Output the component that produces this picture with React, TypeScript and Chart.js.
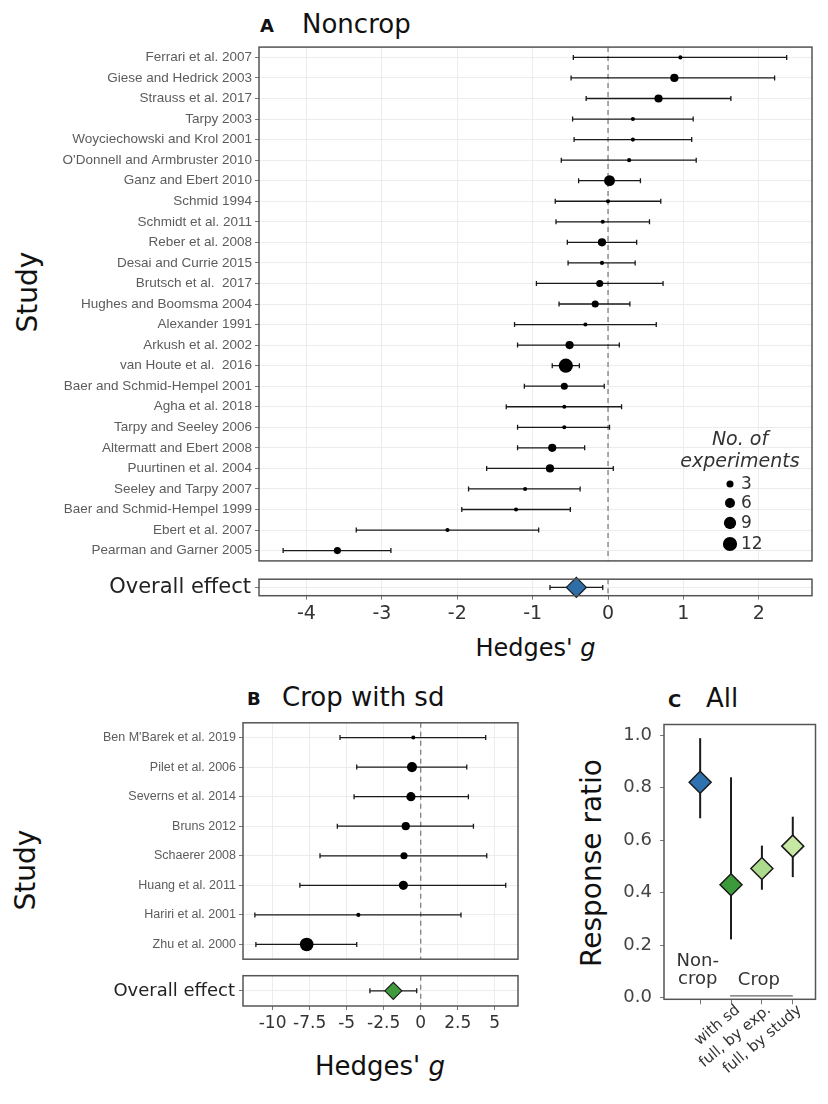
import React, { useEffect, useRef } from 'react';
import { Chart, registerables } from 'chart.js';
Chart.register(...registerables);

const FONT = "'DejaVu Sans', sans-serif";
Chart.defaults.font.family = FONT;

// ---------- Panel A: Noncrop ----------
const studiesA = [
  'Ferrari et al. 2007', 'Giese and Hedrick 2003', 'Strauss et al. 2017', 'Tarpy 2003',
  'Woyciechowski and Krol 2001', "O'Donnell and Armbruster 2010", 'Ganz and Ebert 2010',
  'Schmid 1994', 'Schmidt et al. 2011', 'Reber et al. 2008', 'Desai and Currie 2015',
  'Brutsch et al.  2017', 'Hughes and Boomsma 2004', 'Alexander 1991', 'Arkush et al. 2002',
  'van Houte et al.  2016', 'Baer and Schmid-Hempel 2001', 'Agha et al. 2018',
  'Tarpy and Seeley 2006', 'Altermatt and Ebert 2008', 'Puurtinen et al. 2004',
  'Seeley and Tarpy 2007', 'Baer and Schmid-Hempel 1999', 'Ebert et al. 2007',
  'Pearman and Garner 2005',
];
const gA = [0.96, 0.88, 0.67, 0.33, 0.33, 0.28, 0.02, 0.0, -0.07, -0.08, -0.08, -0.11, -0.17, -0.30, -0.51, -0.56, -0.58, -0.58, -0.58, -0.74, -0.77, -1.10, -1.22, -2.13, -3.59];
const lowA = [-0.46, -0.49, -0.29, -0.47, -0.45, -0.62, -0.39, -0.70, -0.69, -0.54, -0.53, -0.95, -0.65, -1.24, -1.20, -0.74, -1.11, -1.35, -1.20, -1.20, -1.61, -1.85, -1.94, -3.34, -4.31];
const highA = [2.37, 2.21, 1.63, 1.13, 1.11, 1.17, 0.43, 0.70, 0.55, 0.38, 0.36, 0.73, 0.29, 0.64, 0.15, -0.38, -0.05, 0.18, 0.02, -0.31, 0.07, -0.37, -0.50, -0.92, -2.88];
const nA = [1, 4, 4, 1, 1, 1, 7, 1, 1, 4, 1, 3, 3, 1, 4, 12, 3, 1, 1, 4, 4, 1, 1, 1, 3];
const overallLabel = ['Overall effect'];
const overallA = [-0.42];
const overallALow = [-0.77];
const overallAHigh = [-0.07];
const xTicksA = [-4, -3, -2, -1, 0, 1, 2];
const legendSizes = [3, 6, 9, 12];

// ---------- Panel B: Crop with sd ----------
const studiesB = [
  "Ben M'Barek et al. 2019", 'Pilet et al. 2006', 'Severns et al. 2014', 'Bruns 2012',
  'Schaerer 2008', 'Huang et al. 2011', 'Hariri et al. 2001', 'Zhu et al. 2000',
];
const gB = [-0.5, -0.59, -0.66, -1.01, -1.13, -1.17, -4.21, -7.7];
const lowB = [-5.45, -4.32, -4.5, -5.63, -6.8, -8.16, -11.2, -11.13];
const highB = [4.39, 3.11, 3.22, 3.56, 4.46, 5.74, 2.72, -4.32];
const nB = [1, 6, 5, 4, 3, 5, 1, 11];
const overallB = [-1.85];
const overallBLow = [-3.43];
const overallBHigh = [-0.27];
const xTicksB = [-10, -7.5, -5, -2.5, 0, 2.5, 5];

// ---------- Panel C: All ----------
const posC = [1, 2, 3, 4];
const tickLabelsC = ['', 'with sd', 'full, by exp.', 'full, by study'];
const rrC = [0.82, 0.43, 0.492, 0.577];
const rrLowC = [0.683, 0.222, 0.411, 0.459];
const rrHighC = [0.988, 0.839, 0.579, 0.689];
const colorsC = ['#2f72b0', '#3c9a3a', '#addb8d', '#c6e8a2'];
const yTicksC = [0, 0.2, 0.4, 0.6, 0.8, 1.0];

const rad = (n: number) => 2.05 * Math.sqrt(n);

type PanelOpts = {
  hbars?: { lo: number[]; hi: number[] };
  vbars?: { x: number[]; lo: number[]; hi: number[] };
  zero?: boolean;
  cap?: number;
  barWidth?: number;
  extra?: (chart: any) => void;
};

function panelPlugin(o: PanelOpts) {
  return {
    id: 'panel',
    beforeDatasetsDraw(chart: any) {
      const { ctx, chartArea: a, scales } = chart;
      ctx.save();
      if (o.zero) {
        const x = scales.x.getPixelForValue(0);
        ctx.strokeStyle = '#808080';
        ctx.lineWidth = 1.3;
        ctx.setLineDash([5, 4]);
        ctx.beginPath();
        ctx.moveTo(x, a.top);
        ctx.lineTo(x, a.bottom);
        ctx.stroke();
        ctx.setLineDash([]);
      }
      const cap = o.cap ?? 2.5;
      ctx.strokeStyle = '#1a1a1a';
      ctx.lineWidth = o.barWidth ?? 1.3;
      if (o.hbars) {
        o.hbars.lo.forEach((lo, i) => {
          const y = scales.y.getPixelForValue(i);
          const x1 = scales.x.getPixelForValue(lo);
          const x2 = scales.x.getPixelForValue(o.hbars!.hi[i]);
          ctx.beginPath();
          ctx.moveTo(x1, y); ctx.lineTo(x2, y);
          ctx.moveTo(x1, y - cap); ctx.lineTo(x1, y + cap);
          ctx.moveTo(x2, y - cap); ctx.lineTo(x2, y + cap);
          ctx.stroke();
        });
      }
      if (o.vbars) {
        o.vbars.x.forEach((xv, i) => {
          const x = scales.x.getPixelForValue(xv);
          const y1 = scales.y.getPixelForValue(o.vbars!.lo[i]);
          const y2 = scales.y.getPixelForValue(o.vbars!.hi[i]);
          ctx.beginPath();
          ctx.moveTo(x, y1); ctx.lineTo(x, y2);
          ctx.stroke();
        });
      }
      ctx.restore();
    },
    afterDraw(chart: any) {
      const { ctx, chartArea: a } = chart;
      ctx.save();
      ctx.strokeStyle = '#555';
      ctx.lineWidth = 1.5;
      ctx.strokeRect(a.left, a.top, a.right - a.left, a.bottom - a.top);
      if (o.extra) o.extra(chart);
      ctx.restore();
    },
  };
}

const noPad = (s: any) => {
  s.paddingTop = 0; s.paddingBottom = 0; s.paddingLeft = 0; s.paddingRight = 0;
};

const baseOpts = {
  animation: false as const,
  responsive: false,
  devicePixelRatio: 1,
  events: [] as any[],
  plugins: { legend: { display: false }, tooltip: { enabled: false } },
};

function ChartBox({ left, top, width, height, make }: { left: number; top: number; width: number; height: number; make: () => any }) {
  const ref = useRef<HTMLCanvasElement>(null);
  useEffect(() => {
    const chart = new Chart(ref.current as HTMLCanvasElement, make());
    return () => chart.destroy();
  }, []);
  return (
    <canvas ref={ref} width={width} height={height}
      style={{ position: 'absolute', left, top, width, height }} />
  );
}

// ---------- configs ----------
function forestMain(studies: string[], g: number[], lo: number[], hi: number[], n: number[],
  xmin: number, xmax: number, xticks: number[], yWidth: number, pad: any, labelSize: number, extra?: (c: any) => void) {
  return {
    type: 'scatter',
    data: {
      datasets: [{
        data: studies.map((s, i) => ({ x: g[i], y: s })),
        pointRadius: n.map(rad),
        backgroundColor: '#000',
        borderColor: '#000',
        borderWidth: 0,
      }],
    },
    options: {
      ...baseOpts,
      layout: { padding: pad },
      scales: {
        x: {
          type: 'linear', min: xmin, max: xmax,
          afterBuildTicks: (s: any) => { s.ticks = xticks.map((v) => ({ value: v })); },
          ticks: { display: false },
          grid: { color: '#ececec', drawTicks: false },
          border: { display: false },
          afterFit: (s: any) => { s.height = 0; noPad(s); },
        },
        y: {
          type: 'category', labels: studies, offset: true,
          ticks: { autoSkip: false, font: { family: "'Liberation Sans', Arial, sans-serif", size: labelSize }, color: '#5c5c5c', padding: 3 },
          grid: { color: '#ececec', tickColor: '#777', tickLength: 4, offset: false },
          border: { display: false },
          afterFit: (s: any) => { s.width = yWidth; noPad(s); },
        },
      },
    },
    plugins: [panelPlugin({ hbars: { lo, hi }, zero: true, extra })],
  };
}

function forestOverall(g: number[], lo: number[], hi: number[], color: string, dRad: number,
  xmin: number, xmax: number, xticks: number[], yWidth: number, pad: any, xHeight: number,
  tickSize: number, labelSize: number) {
  return {
    type: 'scatter',
    data: {
      datasets: [{
        data: overallLabel.map((s, i) => ({ x: g[i], y: s })),
        pointStyle: 'rectRot',
        pointRadius: dRad,
        backgroundColor: color,
        borderColor: '#1a1a1a',
        borderWidth: 1.2,
      }],
    },
    options: {
      ...baseOpts,
      layout: { padding: pad },
      scales: {
        x: {
          type: 'linear', min: xmin, max: xmax,
          afterBuildTicks: (s: any) => { s.ticks = xticks.map((v) => ({ value: v })); },
          ticks: { autoSkip: false, maxRotation: 0, font: { family: FONT, size: tickSize }, color: '#333', padding: 3, callback: (v: any) => String(v) },
          grid: { color: '#ececec', tickColor: '#777', tickLength: 4 },
          border: { display: false },
          afterFit: (s: any) => { s.height = xHeight; noPad(s); },
        },
        y: {
          type: 'category', labels: overallLabel, offset: true,
          ticks: { font: { family: FONT, size: labelSize }, color: '#222', padding: 4 },
          grid: { color: '#ececec', tickColor: '#777', tickLength: 4, offset: false },
          border: { display: false },
          afterFit: (s: any) => { s.width = yWidth; noPad(s); },
        },
      },
    },
    plugins: [panelPlugin({ hbars: { lo, hi }, zero: true })],
  };
}

// legend for panel A (drawn in main-A canvas, whose top is at page y=40)
const legendA = (chart: any) => {
  const { ctx } = chart;
  const off = 40;
  ctx.fillStyle = '#333';
  ctx.textAlign = 'center';
  ctx.textBaseline = 'middle';
  ctx.font = `italic 19px ${FONT}`;
  ctx.fillText('No. of', 740, 440 - off);
  ctx.fillText('experiments', 740, 462 - off);
  const ys = [484, 503, 523, 544];
  ctx.font = `17px ${FONT}`;
  ctx.textAlign = 'left';
  legendSizes.forEach((n, i) => {
    ctx.fillStyle = '#000';
    ctx.beginPath();
    ctx.arc(730, ys[i] - off, rad(n), 0, Math.PI * 2);
    ctx.fill();
    ctx.fillStyle = '#333';
    ctx.fillText(String(n), 741, ys[i] - off + 1);
  });
};

const annotC = (chart: any) => {
  const { ctx, scales } = chart;
  const px = (v: number) => scales.x.getPixelForValue(v);
  const py = (v: number) => scales.y.getPixelForValue(v);
  ctx.fillStyle = '#333';
  ctx.font = `18px ${FONT}`;
  ctx.textAlign = 'center';
  ctx.textBaseline = 'middle';
  ctx.fillText('Non-', px(0.92), py(0.137));
  ctx.fillText('crop', px(0.92), py(0.07));
  ctx.fillText('Crop', px(2.9), py(0.066));
  ctx.strokeStyle = '#666';
  ctx.lineWidth = 1.2;
  ctx.beginPath();
  ctx.moveTo(px(1.97), py(0.007));
  ctx.lineTo(px(4.0), py(0.007));
  ctx.stroke();
};

function configC() {
  return {
    type: 'scatter',
    data: {
      datasets: [{
        data: posC.map((p, i) => ({ x: p, y: rrC[i] })),
        pointStyle: 'rectRot',
        pointRadius: 11,
        backgroundColor: colorsC,
        borderColor: '#1a1a1a',
        borderWidth: 1.5,
      }],
    },
    options: {
      ...baseOpts,
      layout: { padding: { top: 7.3, right: 6, bottom: 0, left: 0 } },
      scales: {
        x: {
          type: 'linear', min: -0.171, max: 4.736,
          afterBuildTicks: (s: any) => { s.ticks = posC.map((v) => ({ value: v })); },
          ticks: { autoSkip: false, minRotation: 40, maxRotation: 40, labelOffset: 7, font: { family: FONT, size: 15 }, color: '#333', padding: -3, callback: (_v: any, i: number) => tickLabelsC[i] },
          grid: { drawOnChartArea: false, tickColor: '#777', tickLength: 5 },
          border: { display: false },
          afterFit: (s: any) => { s.height = 104.7; noPad(s); },
        },
        y: {
          type: 'linear', min: -0.006, max: 1.04,
          afterBuildTicks: (s: any) => { s.ticks = yTicksC.map((v) => ({ value: v })); },
          ticks: { font: { family: FONT, size: 18 }, color: '#444', padding: 8, callback: (v: any) => Number(v).toFixed(1) },
          grid: { drawOnChartArea: false, tickColor: '#777', tickLength: 4 },
          border: { display: false },
          afterFit: (s: any) => { s.width = 104; noPad(s); },
        },
      },
    },
    plugins: [panelPlugin({ vbars: { x: posC, lo: rrLowC, hi: rrHighC }, barWidth: 2, extra: annotC })],
  };
}

// ---------- text helpers ----------
function T({ x, base, size, bold, italic, center, color, children }: any) {
  return (
    <div style={{
      position: 'absolute', left: x, top: base - 0.846 * size, fontSize: size, lineHeight: 1,
      fontFamily: FONT, fontWeight: bold ? 'bold' : 'normal', fontStyle: italic ? 'italic' : 'normal',
      whiteSpace: 'nowrap', color: color ?? '#111', transform: center ? 'translateX(-50%)' : undefined,
    }}>{children}</div>
  );
}
function R({ cx, cy, size, children }: any) {
  return (
    <div style={{
      position: 'absolute', left: cx, top: cy, transform: 'translate(-50%,-50%) rotate(-90deg)',
      fontSize: size, lineHeight: 1, fontFamily: FONT, whiteSpace: 'nowrap', color: '#111',
    }}>{children}</div>
  );
}

export default function App() {
  return (
    <div style={{ position: 'absolute', left: 0, top: 0, width: 828, height: 1104, background: '#fff', overflow: 'hidden' }}>
      {/* Panel A */}
      <T x={260} base={32} size={18} bold>A</T>
      <T x={302} base={32.5} size={26}>Noncrop</T>
      <R cx={28} cy={292} size={28}>Study</R>
      <ChartBox left={0} top={40} width={828} height={528}
        make={() => forestMain(studiesA, gA, lowA, highA, nA, -4.63, 2.706, xTicksA, 259,
          { top: 3, right: 16, bottom: 2.3, left: 0 }, 13.5, legendA)} />
      <ChartBox left={0} top={568} width={828} height={60}
        make={() => forestOverall(overallA, overallALow, overallAHigh, '#2e6da6', 10, -4.63, 2.706, xTicksA, 259,
          { top: 3.7, right: 16, bottom: 0, left: 0 }, 32.3, 19, 21)} />
      <T x={535.5} base={656} size={24} center>Hedges' <i>g</i></T>

      {/* Panel B */}
      <T x={247} base={705} size={18} bold>B</T>
      <T x={282} base={706} size={26}>Crop with sd</T>
      <R cx={26} cy={870} size={28}>Study</R>
      <ChartBox left={0} top={716} width={528} height={250}
        make={() => forestMain(studiesB, gB, lowB, highB, nB, -12.0, 6.57, xTicksB, 243,
          { top: 4, right: 10, bottom: 2.7, left: 0 }, 12.5)} />
      <ChartBox left={0} top={966} width={528} height={70}
        make={() => forestOverall(overallB, overallBLow, overallBHigh, '#3f9b3c', 8.5, -12.0, 6.57, xTicksB, 243,
          { top: 4, right: 10, bottom: 0, left: 0 }, 30, 17, 18)} />
      <T x={380} base={1075} size={26} center>Hedges' <i>g</i></T>

      {/* Panel C */}
      <T x={668} base={707} size={18} bold>C</T>
      <T x={706} base={707} size={26}>All</T>
      <R cx={592} cy={863} size={28}>Response ratio</R>
      <ChartBox left={560} top={712} width={268} height={392} make={configC} />
    </div>
  );
}
